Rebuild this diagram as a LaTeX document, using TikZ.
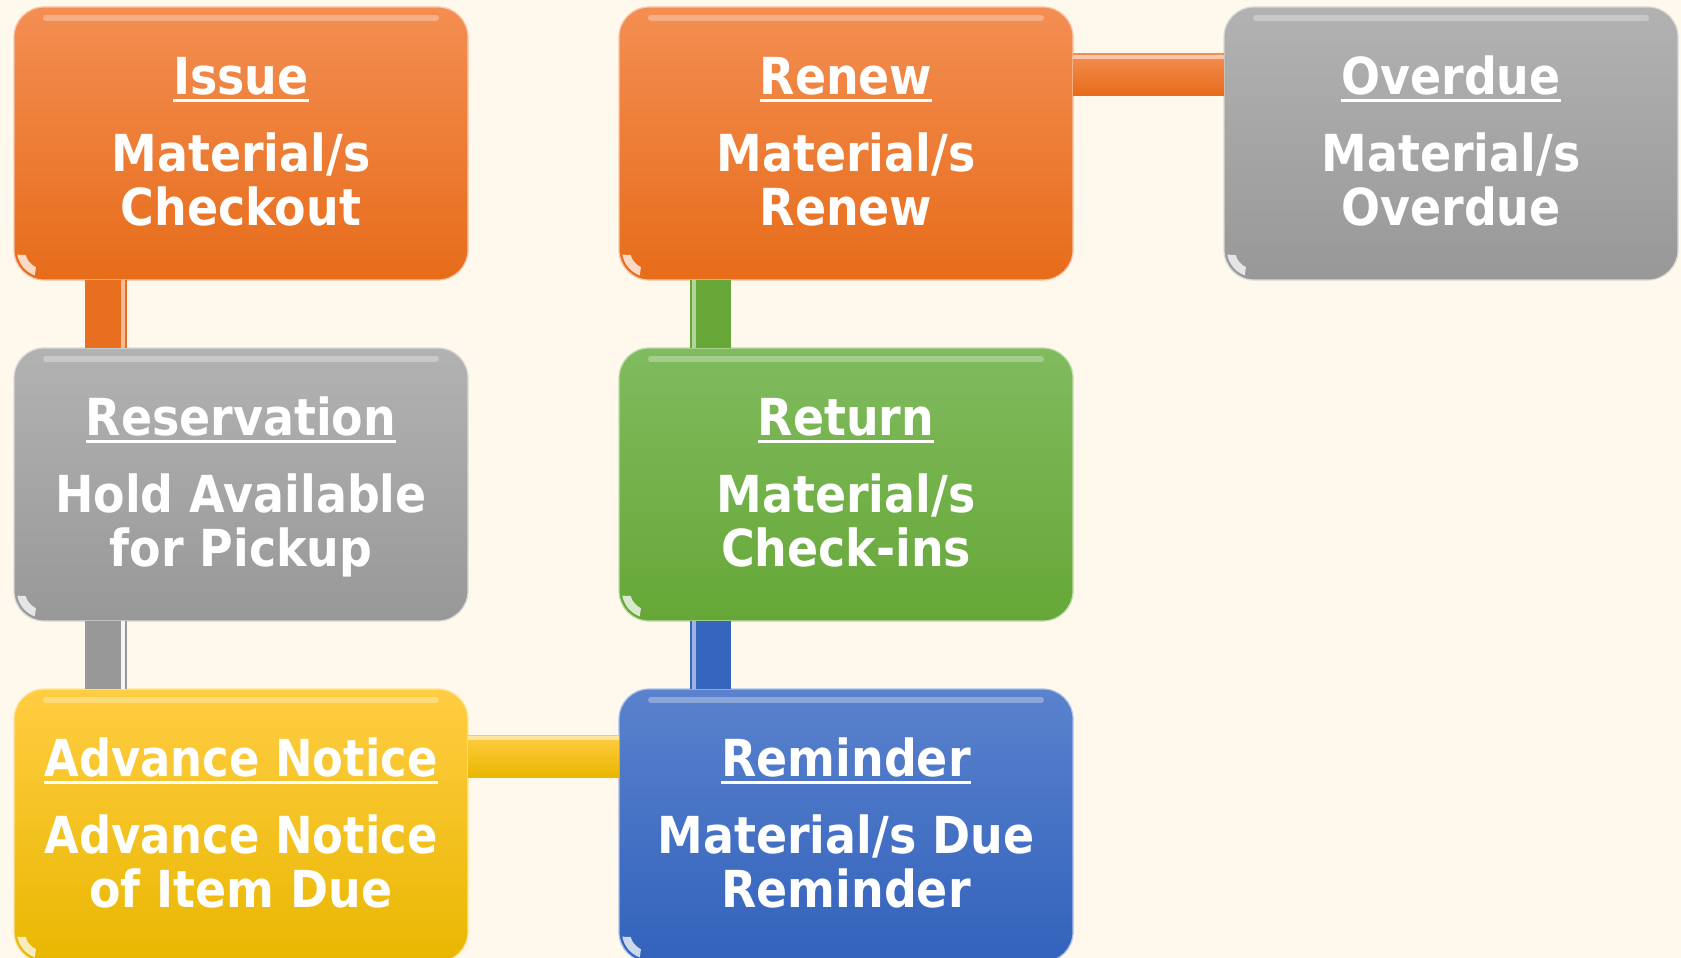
\documentclass[tikz,border=0pt]{standalone}
\usepackage{fontspec}
\setmainfont{DejaVu Sans}[FakeStretch=0.9]
\newfontfamily\narrowfont{DejaVu Sans}[FakeStretch=0.88]
\usetikzlibrary{positioning}

\definecolor{bgcream}{RGB}{254,249,236}
\definecolor{orangetop}{RGB}{243,142,82}
\definecolor{orangebot}{RGB}{231,108,26}
\definecolor{greytop}{RGB}{178,178,178}
\definecolor{greybot}{RGB}{152,152,152}
\definecolor{greentop}{RGB}{128,187,94}
\definecolor{greenbot}{RGB}{102,167,55}
\definecolor{yellowtop}{RGB}{255,205,66}
\definecolor{yellowbot}{RGB}{233,183,0}
\definecolor{bluetop}{RGB}{90,130,205}
\definecolor{bluebot}{RGB}{50,98,188}

% underlined title with fixed height, last line with fixed depth
\newcommand{\ttl}[1]{\setbox0\hbox{#1}\rlap{\rule[-8pt]{\wd0}{3.5pt}}\box0\rule{0pt}{45pt}}
\newcommand{\lastln}{\rule[-13pt]{0pt}{13pt}}

\tikzset{
    card/.style={rounded corners=30pt, minimum width=454pt, minimum height=273pt,
        outer sep=0pt, inner sep=0pt, align=center, text=white,
        font=\bfseries\fontsize{51}{54}\selectfont},
    orangecard/.style={card, top color=orangetop, bottom color=orangebot, draw=orangetop!50!white, line width=1.2pt},
    greycard/.style={card, top color=greytop, bottom color=greybot, draw=greytop!50!white, line width=1.2pt},
    greencard/.style={card, top color=greentop, bottom color=greenbot, draw=greentop!50!white, line width=1.2pt},
    yellowcard/.style={card, top color=yellowtop, bottom color=yellowbot, draw=yellowtop!50!white, line width=1.2pt},
    bluecard/.style={card, top color=bluetop, bottom color=bluebot, draw=bluetop!50!white, line width=1.2pt},
}

\begin{document}
\begin{tikzpicture}[x=1pt, y=-1pt]
    \fill[bgcream] (0, 0) rectangle (1681, 958);
    \useasboundingbox (0, 0) rectangle (1681, 958);

    % boxes
    \node[orangecard] (issue) at (241, 143.5) {\ttl{Issue}\\[23pt] Material/s\\Checkout\lastln};
    \node[orangecard] (renew) at (846, 143.5) {\ttl{Renew}\\[23pt] Material/s\\Renew\lastln};
    \node[greycard] (overdue) at (1451, 143.5) {\ttl{Overdue}\\[23pt] Material/s\\Overdue\lastln};
    \node[greycard] (resv) at (241, 484.5) {\ttl{Reservation}\\[23pt] Hold Available\\for Pickup\lastln};
    \node[greencard] (ret) at (846, 484.5) {\ttl{Return}\\[23pt] Material/s\\Check-ins\lastln};
    \node[yellowcard] (advance) at (241, 825.5) {\ttl{\narrowfont Advance Notice}\\[23pt] {\narrowfont Advance Notice}\\of Item Due\lastln};
    \node[bluecard] (remind) at (846, 825.5) {\ttl{Reminder}\\[23pt] Material/s Due\\Reminder\lastln};

    % gloss
    \foreach \n in {issue, renew, overdue, resv, ret, advance, remind} {
        \draw[white, opacity=0.3, line width=6pt, line cap=round]
            ([xshift=32pt, yshift=-11pt]\n.north west) -- ([xshift=-32pt, yshift=-11pt]\n.north east);
        \fill[white, opacity=0.75] ([xshift=3.4pt, yshift=25.3pt]\n.south west)
            arc (190:250:27pt) -- ++(1.2pt, 8.2pt) arc (245:195:19pt) -- cycle;
    }

    % connectors
    \fill[orangebot!90!orangetop] ([xshift=71pt]issue.south west) rectangle ([xshift=113pt]resv.north west);
    \fill[orangetop!60!white] ([xshift=107pt]issue.south west) rectangle ([xshift=111pt]resv.north west);
    \fill[greybot] ([xshift=71pt]resv.south west) rectangle ([xshift=113pt]advance.north west);
    \fill[white!85!greytop] ([xshift=107pt]resv.south west) rectangle ([xshift=111pt]advance.north west);
    \fill[greenbot] ([xshift=71pt]renew.south west) rectangle ([xshift=112pt]ret.north west);
    \fill[greentop!60!white] ([xshift=73pt]renew.south west) rectangle ([xshift=77pt]ret.north west);
    \fill[bluebot!90!bluetop] ([xshift=71pt]ret.south west) rectangle ([xshift=112pt]remind.north west);
    \fill[bluetop!60!white] ([xshift=73pt]ret.south west) rectangle ([xshift=77pt]remind.north west);
    \shade[top color=yellowtop, bottom color=yellowbot] ([yshift=-46pt]advance.north east) rectangle ([yshift=-88pt]remind.north west);
    \fill[yellowtop!50!white] ([yshift=-47pt]advance.north east) rectangle ([yshift=-51pt]remind.north west);
    \shade[top color=orangetop, bottom color=orangebot] ([yshift=-47pt]renew.north east) rectangle ([yshift=-88pt]overdue.north west);
    \fill[orangetop!50!white] ([yshift=-48pt]renew.north east) rectangle ([yshift=-52pt]overdue.north west);
\end{tikzpicture}
\end{document}
